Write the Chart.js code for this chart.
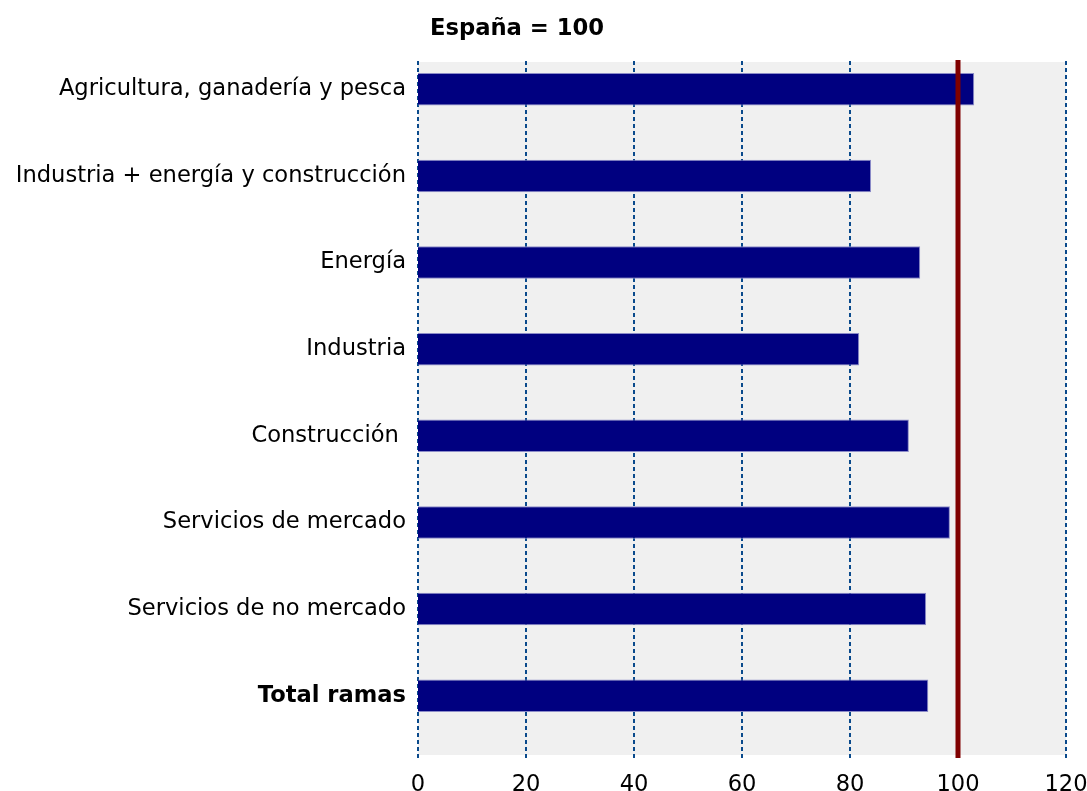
<!DOCTYPE html>
<html>
<head>
<meta charset="utf-8">
<script src="https://cdn.jsdelivr.net/npm/chart.js@4"></script>
<style>
  body { margin: 0; background: #fff; }
  #wrap { position: relative; width: 1087px; height: 791px; }
  #titulo { position: absolute; top: 14px; left: 367px; width: 300px; text-align: center;
            font: bold 22.7px "DejaVu Sans", Verdana, sans-serif; color: #000; }
</style>
</head>
<body>
<div id="wrap">
  <div id="titulo">España = 100</div>
  <canvas id="grafico" width="1087" height="791"></canvas>
</div>
<script>
// Datos
const ramas = [
  'Agricultura, ganadería y pesca',
  'Industria + energía y construcción',
  'Energía',
  'Industria',
  'Construcción ',
  'Servicios de mercado',
  'Servicios de no mercado',
  'Total ramas'
];
const indice = [103.0, 83.9, 93.0, 81.7, 90.9, 98.5, 94.1, 94.5];
const valorReferencia = 100;
const ejeMin = 0;
const ejeMax = 120;
const ejePaso = 20;

const FUENTE = "'DejaVu Sans', Verdana, sans-serif";
const TAM = 22.6;

// fondo gris, rejilla punteada y linea roja de España = 100
// (el fondo y la rejilla sobresalen un poco del area de las barras, como en el original)
const pluginFondo = {
  id: 'fondo',
  beforeDatasetsDraw(chart) {
    const { ctx, chartArea: a, scales } = chart;
    const arriba = a.top + 16, abajo = a.bottom + 16;
    ctx.save();
    ctx.fillStyle = '#f0f0f0';
    ctx.fillRect(a.left, arriba, a.right - a.left, abajo - arriba);
    ctx.strokeStyle = '#0a4a8c';
    ctx.lineWidth = 2;
    ctx.setLineDash([4, 3]);
    scales.x.ticks.forEach(t => {
      const x = Math.round(scales.x.getPixelForValue(t.value));
      ctx.beginPath();
      ctx.moveTo(x, arriba - 1);
      ctx.lineTo(x, abajo + 3);
      ctx.stroke();
    });
    ctx.restore();
  },
  afterDatasetsDraw(chart) {
    const { ctx, chartArea: a, scales } = chart;
    const x = scales.x.getPixelForValue(valorReferencia);
    ctx.save();
    ctx.strokeStyle = '#800000';
    ctx.lineWidth = 5;
    ctx.beginPath();
    ctx.moveTo(x, a.top + 14);
    ctx.lineTo(x, a.bottom + 19);
    ctx.stroke();
    ctx.restore();
  }
};

new Chart(document.getElementById('grafico').getContext('2d'), {
  type: 'bar',
  data: {
    labels: ramas,
    datasets: [{
      data: indice,
      backgroundColor: '#000080',
      borderColor: '#8c8cc8',
      borderWidth: 1,
      barPercentage: 0.375,
      categoryPercentage: 1
    }]
  },
  options: {
    indexAxis: 'y',
    responsive: false,
    animation: false,
    layout: { padding: { top: 46, right: 21 } },
    plugins: { legend: { display: false }, tooltip: { enabled: false } },
    scales: {
      x: {
        min: ejeMin,
        max: ejeMax,
        ticks: { stepSize: ejePaso, color: '#000', padding: 33, maxRotation: 0, font: { family: FUENTE, size: TAM } },
        grid: { display: false, drawTicks: false },
        border: { display: false },
        afterFit(s) { s.height = 52; s.paddingLeft = 0; s.paddingRight = 0; }
      },
      y: {
        ticks: {
          color: '#000',
          padding: 12,
          font: ctx => ({ family: FUENTE, size: TAM, weight: ctx.index === ramas.length - 1 ? 'bold' : 'normal' })
        },
        grid: { display: false, drawTicks: false },
        border: { display: false },
        afterFit(s) { s.width = 418; }
      }
    }
  },
  plugins: [pluginFondo]
});
</script>
</body>
</html>
